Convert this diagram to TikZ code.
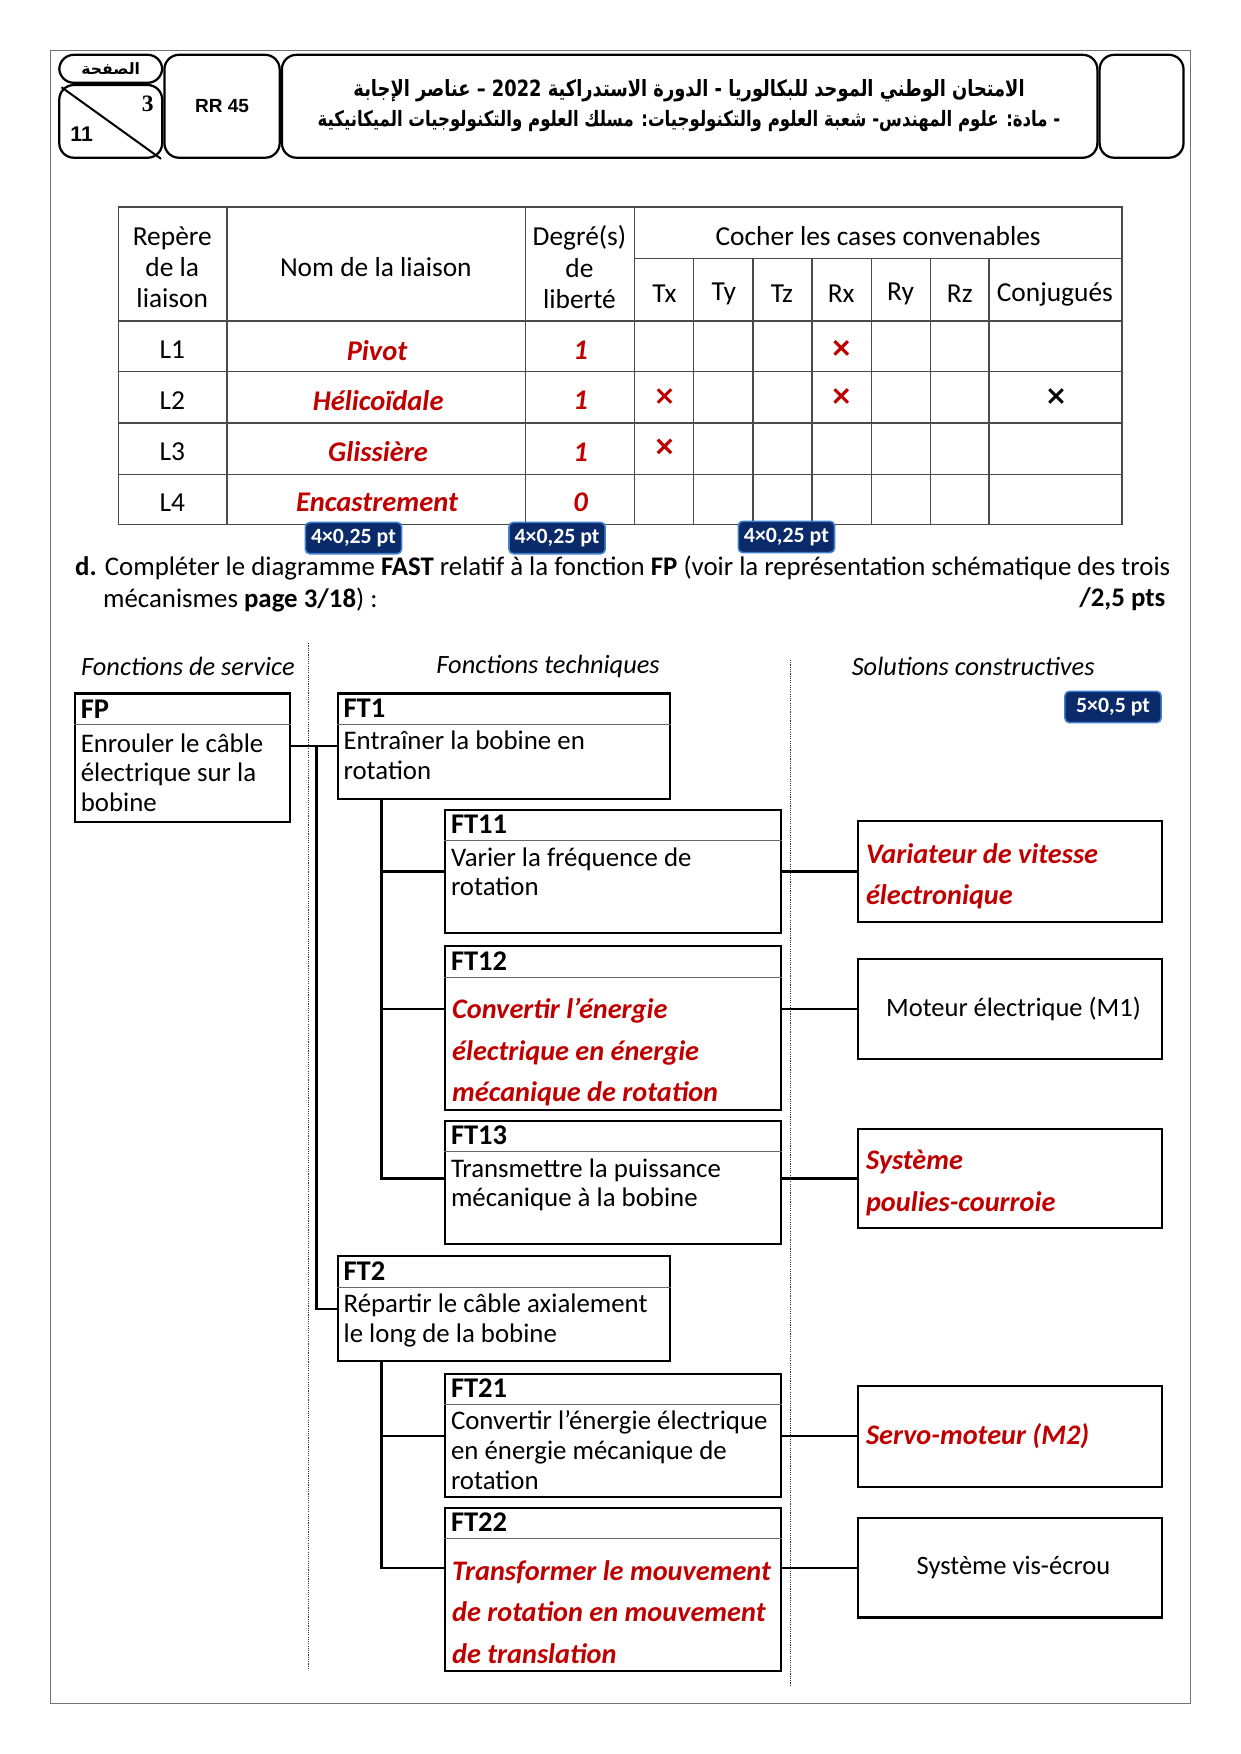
\documentclass[tikz,border=0pt]{standalone}
\usepackage{fontspec}
\setmainfont{Carlito}
\newfontfamily\arabicfont[Script=Arabic]{DejaVu Sans}
\newfontfamily\arialfont{Liberation Sans}
\newfontfamily\timesfont{Liberation Serif}
\TeXXeTstate=1
\definecolor{redans}{HTML}{C00000}
\definecolor{navy}{HTML}{0A2A6A}
\definecolor{navyedge}{HTML}{3F7FD0}
\definecolor{gridc}{HTML}{4A4A4A}
\newcommand{\myfs}[2]{\fontsize{#1}{#2}\selectfont}
\begin{document}
\begin{tikzpicture}[x=1pt,y=-1pt,
  hdr/.style={draw=black,line width=2pt,rounded corners=13pt,anchor=north west,inner sep=0pt},
  tgrid/.style={draw=gridc,line width=1.2pt},
  tcell/.style={inner sep=0pt,align=center,font=\myfs{24.5}{28}},
  redc/.style={inner sep=0pt,text=redans,font=\myfs{25.5}{28}\bfseries\itshape},
  xred/.style={draw=redans,line width=2.8pt},
  xblk/.style={draw=black,line width=2.8pt},
  badge/.style={fill=navy,draw=navyedge,line width=1.4pt,rounded corners=4pt,text=white,font=\myfs{19.5}{20}\bfseries,minimum width=86pt,minimum height=28pt,inner sep=0pt},
  fbox/.style={draw=black,line width=2pt,anchor=north west,inner sep=0pt},
  sepl/.style={draw=black!60,line width=0.8pt},
  conn/.style={draw=black,line width=2pt},
  dotl/.style={draw=black!80,line width=0.9pt,dash pattern=on 1pt off 1pt},
  ttl/.style={anchor=west,inner sep=0pt,font=\myfs{25.5}{26}\bfseries},
  body/.style={anchor=north west,inner sep=0pt,align=left,font=\myfs{24}{26.5}},
  redbody/.style={anchor=north west,inner sep=0pt,align=left,text=redans,font=\myfs{25.3}{37}\bfseries\itshape},
  colh/.style={inner sep=0pt,font=\myfs{23.6}{26}\itshape},
  plain/.style={inner sep=0pt,font=\myfs{24}{28}},
]
\useasboundingbox (0,0) rectangle (1109,1568);
\fill[white] (0,0) rectangle (1109,1568);
% page frame
\draw[draw=black!55,line width=1.2pt] (45,45) rectangle (1064,1523);

% ---------- header ----------
\node[hdr,minimum width=92pt,minimum height=25pt] (pgbox) at (52,48) {};
\node[inner sep=0pt] (pglab) at (pgbox.center) {\arabicfont\bfseries\myfs{14}{15}\beginR الصفحة\endR};
\node[hdr,minimum width=92pt,minimum height=65pt] (numbox) at (52,75) {};
\draw[line width=1.8pt] ([shift={(3,3)}]numbox.north west) -- ([shift={(-2,0)}]numbox.south east);
\node[inner sep=0pt] (pgnum) at (132,93) {\timesfont\bfseries\myfs{21}{22}3};
\node[inner sep=0pt] (pgtot) at (73,120) {\arialfont\bfseries\myfs{19}{20}11};
\node[hdr,minimum width=103pt,minimum height=92pt] (rr) at (146,48) {};
\node[inner sep=0pt] (rrlab) at (rr.center) {\arialfont\bfseries\myfs{17}{18}RR 45};
\node[hdr,minimum width=729pt,minimum height=92pt] (title) at (251,48) {};
\node[inner sep=0pt] (ar1) at (616,81) {\resizebox{600pt}{\height}{\arabicfont\bfseries\myfs{20}{22}\beginR الامتحان الوطني الموحد للبكالوريا - الدورة الاستدراكية \beginL 2022\endL{} – عناصر الإجابة\endR}};
\node[inner sep=0pt] (ar2) at (616,108) {\resizebox{664pt}{\height}{\arabicfont\bfseries\myfs{19}{22}\beginR - مادة: علوم المهندس- شعبة العلوم والتكنولوجيات: مسلك العلوم والتكنولوجيات الميكانيكية\endR}};
\node[hdr,minimum width=75pt,minimum height=92pt] (rbox) at (982,48) {};

% ---------- table ----------
\draw[tgrid] (106,185) rectangle (1003,469);
\foreach \xx in {203,470,567} \draw[tgrid] (\xx,185) -- (\xx,469);
\foreach \xx in {620,673,726,779,832,884} \draw[tgrid] (\xx,231) -- (\xx,469);
\draw[tgrid] (567,231) -- (1003,231);
\foreach \yy in {287,332,378,424} \draw[tgrid] (106,\yy) -- (1003,\yy);

\node[tcell] (hrep) at (154,239) {Repère\\de la\\liaison};
\node[tcell] (hnom) at (336,239) {Nom de la liaison};
\node[tcell] (hdeg) at (518,239) {Degré(s)\\de\\liberté};
\node[tcell] (hcoc) at (785,211) {Cocher les cases convenables};
\node[tcell] (htx) at (594,263) {Tx};
\node[tcell] (hty) at (647,263) {Ty};
\node[tcell] (htz) at (699,263) {Tz};
\node[tcell] (hrx) at (752,263) {Rx};
\node[tcell] (hry) at (805,263) {Ry};
\node[tcell] (hrz) at (858,263) {Rz};
\node[tcell] (hcj) at (943,263) {Conjugués};

\node[tcell] (l1) at (154,313) {L1};
\node[tcell] (l2) at (154,358) {L2};
\node[tcell] (l3) at (154,404) {L3};
\node[tcell] (l4) at (154,449) {L4};
\node[redc] (n1) at (337,313) {Pivot};
\node[redc] (n2) at (338,358) {Hélicoïdale};
\node[redc] (n3) at (338,404) {Glissière};
\node[redc] (n4) at (337,449) {Encastrement};
\node[redc] (d1) at (519,313) {1};
\node[redc] (d2) at (519,358) {1};
\node[redc] (d3) at (519,404) {1};
\node[redc] (d4) at (519,449) {0};

\draw[xred] (746,305) -- (758,317) (746,317) -- (758,305);
\draw[xred] (588,348) -- (600,360) (588,360) -- (600,348);
\draw[xred] (746,348) -- (758,360) (746,360) -- (758,348);
\draw[xblk] (938,348) -- (950,360) (938,360) -- (950,348);
\draw[xred] (588,393) -- (600,405) (588,405) -- (600,393);

% badges
\node[badge] (b1) at (316,481) {4×0,25 pt};
\node[badge] (b2) at (498,481) {4×0,25 pt};
\node[badge] (b3) at (703,480) {4×0,25 pt};

% question
\node[plain,anchor=west] (q1) at (67,508) {\textbf{d.} Compléter le diagramme \textbf{FAST} relatif à la fonction \textbf{FP} (voir la représentation schématique des trois};
\node[plain,anchor=west] (q2) at (92,536) {mécanismes \textbf{page 3/18}) :};
\node[plain,anchor=east] (q3) at (1042,536) {\textbf{/2,5 pts}};

% ---------- FAST ----------
\node[colh] (cs) at (168,596) {Fonctions de service};
\node[colh] (ct) at (490,596) {Fonctions techniques};
\node[colh] (cc) at (870,596) {Solutions constructives};
\node[badge] (b4) at (995,632) {5×0,5 pt};

\draw[dotl] (276,575) -- (276,1492);
\draw[dotl] (707,590) -- (707,1507);

\node[fbox,minimum width=192pt,minimum height=115pt] (FP) at (66,619) {};
\node[fbox,minimum width=297pt,minimum height=94pt] (FT1) at (301,619) {};
\node[fbox,minimum width=300pt,minimum height=110pt] (FT11) at (397,723) {};
\node[fbox,minimum width=300pt,minimum height=146pt] (FT12) at (397,845) {};
\node[fbox,minimum width=300pt,minimum height=110pt] (FT13) at (397,1001) {};
\node[fbox,minimum width=297pt,minimum height=94pt] (FT2) at (301,1122) {};
\node[fbox,minimum width=300pt,minimum height=110pt] (FT21) at (397,1227) {};
\node[fbox,minimum width=300pt,minimum height=146pt] (FT22) at (397,1347) {};
\node[fbox,minimum width=272pt,minimum height=90pt] (S1) at (766,733) {};
\node[fbox,minimum width=272pt,minimum height=90pt,font=\myfs{23.7}{26}] (S2) at (766,856) {\hspace*{6pt}Moteur électrique (M1)};
\node[fbox,minimum width=272pt,minimum height=89pt] (S3) at (766,1008) {};
\node[fbox,minimum width=272pt,minimum height=90pt] (S4) at (766,1238) {};
\node[fbox,minimum width=272pt,minimum height=89pt,font=\myfs{23.7}{26}] (S5) at (766,1356) {\hspace*{6pt}Système vis-écrou};

% title separators
\foreach \bx in {FP,FT1,FT11,FT12,FT13,FT2,FT21,FT22}
  \draw[sepl] ([yshift=-28.5pt]\bx.north west) -- ([yshift=-28.5pt]\bx.north east);

% titles
\node[ttl] (tFP) at ([shift={(6,15)}]FP.north west) {FP};
\node[ttl] (tFT1) at ([shift={(6,14)}]FT1.north west) {FT1};
\node[ttl] (tFT11) at ([shift={(6,14)}]FT11.north west) {FT11};
\node[ttl] (tFT12) at ([shift={(6,14)}]FT12.north west) {FT12};
\node[ttl] (tFT13) at ([shift={(6,14)}]FT13.north west) {FT13};
\node[ttl] (tFT2) at ([shift={(6,14)}]FT2.north west) {FT2};
\node[ttl] (tFT21) at ([shift={(6,14)}]FT21.north west) {FT21};
\node[ttl] (tFT22) at ([shift={(6,14)}]FT22.north west) {FT22};

% bodies
\node[body] (xFP) at ([shift={(6,34.5)}]FP.north west) {\strut Enrouler le câble\\électrique sur la\\bobine};
\node[body] (xFT1) at ([shift={(6,32.5)}]FT1.north west) {\strut Entraîner la bobine en\\rotation};
\node[body] (xFT11) at ([shift={(6,32.5)}]FT11.north west) {\strut Varier la fréquence de\\rotation};
\node[redbody] (xFT12) at ([shift={(7,39.6)}]FT12.north west) {\strut Convertir l’énergie\\électrique en énergie\\mécanique de rotation};
\node[body] (xFT13) at ([shift={(6,32.5)}]FT13.north west) {\strut Transmettre la puissance\\mécanique à la bobine};
\node[body] (xFT2) at ([shift={(6,32.5)}]FT2.north west) {\strut Répartir le câble axialement\\le long de la bobine};
\node[body] (xFT21) at ([shift={(6,32.5)}]FT21.north west) {\strut Convertir l’énergie électrique\\en énergie mécanique de\\rotation};
\node[redbody] (xFT22) at ([shift={(7,39.6)}]FT22.north west) {\strut Transformer le mouvement\\de rotation en mouvement\\de translation};
\node[redbody] (xS1) at ([shift={(8,12.6)}]S1.north west) {\strut Variateur de vitesse\\électronique};
\node[redbody] (xS3) at ([shift={(8,11.6)}]S3.north west) {\strut Système\\poulies-courroie};
\node[redbody,anchor=west] (xS4) at ([xshift=8pt]S4.west) {Servo-moteur (M2)};

% connectors
\coordinate (trk) at (283,0);
\coordinate (sp) at (341,0);
\draw[conn] (FP.east |- FT1.west) -- (FT1.west);
\draw[conn] (trk |- FT1.west) -- (trk |- FT2.west) -- (FT2.west);
\draw[conn] (sp |- FT1.south) -- (sp |- S3.west) -- (FT13.west |- S3.west);
\draw[conn] (sp |- FT11.west) -- (FT11.west);
\draw[conn] (sp |- S2.west) -- (FT12.west |- S2.west);
\draw[conn] (sp |- FT2.south) -- (sp |- S5.west) -- (FT22.west |- S5.west);
\draw[conn] (sp |- S4.west) -- (FT21.west |- S4.west);
\draw[conn] (FT11.east |- S1.west) -- (S1.west);
\draw[conn] (FT12.east |- S2.west) -- (S2.west);
\draw[conn] (FT13.east |- S3.west) -- (S3.west);
\draw[conn] (FT21.east |- S4.west) -- (S4.west);
\draw[conn] (FT22.east |- S5.west) -- (S5.west);
\end{tikzpicture}
\end{document}
